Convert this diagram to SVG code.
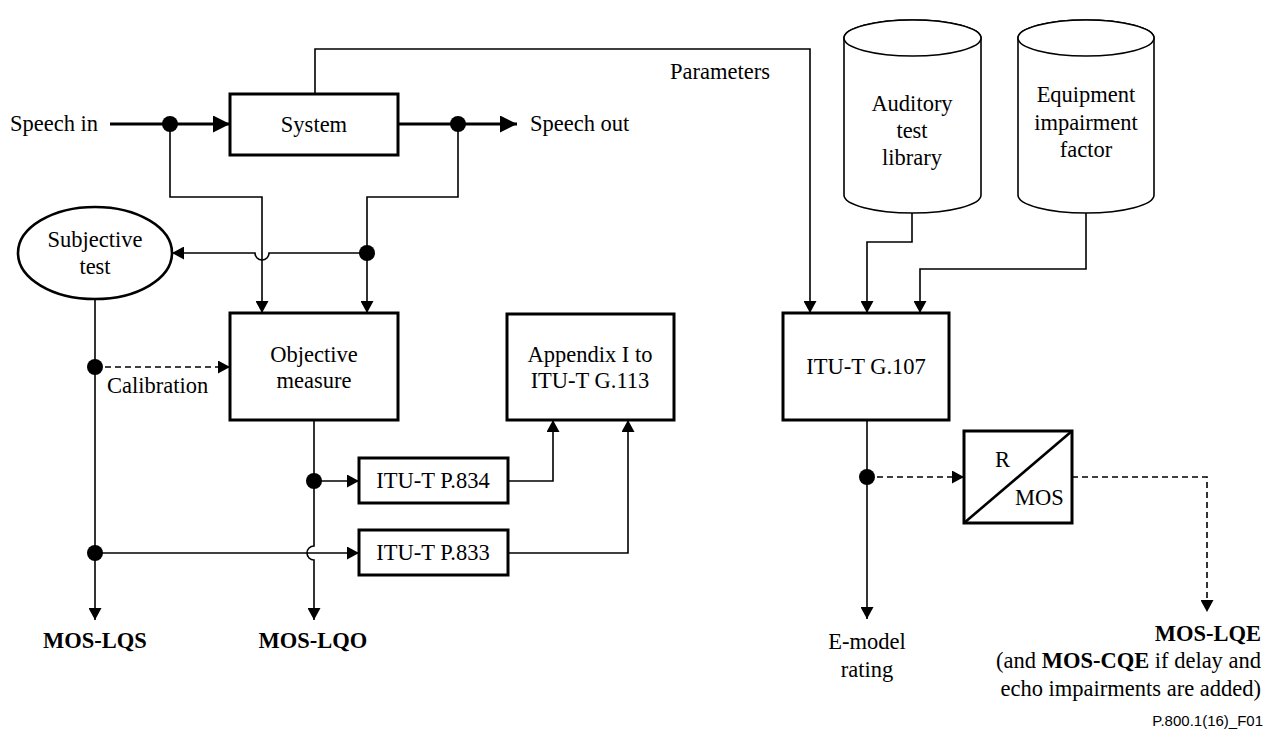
<svg xmlns="http://www.w3.org/2000/svg" width="1271" height="731" viewBox="0 0 1271 731">
<style>
  text { font-family: "Liberation Serif", "Times New Roman", serif; font-size: 22.5px; fill: #000; }
  .c { text-anchor: middle; }
  .e { text-anchor: end; }
  .b { font-weight: bold; }
  .foot { font-family: "Liberation Sans", Arial, sans-serif; font-size: 15px; text-anchor: end; }
  .box { fill: #fff; stroke: #000; stroke-width: 3; }
  .cyl { fill: #fff; stroke: #000; stroke-width: 1.6; }
  .ln { fill: none; stroke: #000; stroke-width: 1.6; }
  .thick { fill: none; stroke: #000; stroke-width: 3.2; }
  .dash { fill: none; stroke: #000; stroke-width: 1.6; stroke-dasharray: 6 4; }
  .dot { fill: #000; }
</style>
<defs>
  <marker id="arr" markerUnits="userSpaceOnUse" markerWidth="12" markerHeight="13" refX="12" refY="6.5" orient="auto">
    <path d="M0,0 L12,6.5 L0,13 Z" fill="#000"/>
  </marker>
  <marker id="big" markerUnits="userSpaceOnUse" markerWidth="17" markerHeight="17" refX="17" refY="8.5" orient="auto">
    <path d="M0,0 L17,8.5 L0,17 Z" fill="#000"/>
  </marker>
</defs>
<rect width="1271" height="731" fill="#fff"/>

<g id="connectors">
  <path class="thick" d="M110,124 H230" marker-end="url(#big)"/>
  <path class="thick" d="M398,124 H517" marker-end="url(#big)"/>
  <path class="ln" d="M315,94 V49 H810 V313" marker-end="url(#arr)"/>
  <path class="ln" d="M170,124 V197 H262 V313" marker-end="url(#arr)"/>
  <path class="ln" d="M458,124 V197 H367 V313" marker-end="url(#arr)"/>
  <path class="ln" d="M367,253 H269 A7,7 0 0 1 255,253 H172" marker-end="url(#arr)"/>
  <path class="ln" d="M95,299 V620" marker-end="url(#arr)"/>
  <path class="dash" d="M95,367 H230" marker-end="url(#arr)"/>
  <path class="ln" d="M314,420 V546 A7,7 0 0 0 314,560 V620" marker-end="url(#arr)"/>
  <path class="ln" d="M314,481 H359" marker-end="url(#arr)"/>
  <path class="ln" d="M95,553 H359" marker-end="url(#arr)"/>
  <path class="ln" d="M508,481 H553 V420" marker-end="url(#arr)"/>
  <path class="ln" d="M508,553 H628 V420" marker-end="url(#arr)"/>
  <path class="ln" d="M912,213 V242 H867 V313" marker-end="url(#arr)"/>
  <path class="ln" d="M1086,213 V269 H920 V313" marker-end="url(#arr)"/>
  <path class="ln" d="M867,420 V619" marker-end="url(#arr)"/>
  <path class="dash" d="M867,477 H964" marker-end="url(#arr)"/>
  <path class="dash" d="M1072,477 H1207 V612" marker-end="url(#arr)"/>
  <circle class="dot" cx="170" cy="124" r="8"/>
  <circle class="dot" cx="458" cy="124" r="8"/>
  <circle class="dot" cx="367" cy="253" r="8"/>
  <circle class="dot" cx="95" cy="367" r="8"/>
  <circle class="dot" cx="95" cy="553" r="8"/>
  <circle class="dot" cx="314" cy="481" r="8"/>
  <circle class="dot" cx="867" cy="477" r="8"/>
</g>

<g id="labels">
  <text x="10" y="131">Speech in</text>
  <text x="530" y="131">Speech out</text>
  <text x="670" y="79">Parameters</text>
  <text x="107" y="393">Calibration</text>
  <text class="c b" x="95" y="648">MOS-LQS</text>
  <text class="c b" x="313" y="648">MOS-LQO</text>
  <text class="c" x="867" y="649">E-model</text>
  <text class="c" x="867" y="677">rating</text>
  <text class="e b" x="1261" y="641">MOS-LQE</text>
  <text class="e" x="1261" y="668">(and <tspan class="b">MOS-CQE</tspan> if delay and</text>
  <text class="e" x="1261" y="696">echo impairments are added)</text>
  <text class="foot" x="1263" y="726">P.800.1(16)_F01</text>
</g>

<g id="system">
  <rect class="box" x="230" y="94" width="168" height="61"/>
  <text class="c" x="314" y="132">System</text>
</g>

<g id="subjective-test">
  <ellipse cx="95" cy="253" rx="77" ry="46" fill="#fff" stroke="#000" stroke-width="2.6"/>
  <text class="c" x="95" y="247">Subjective</text>
  <text class="c" x="95" y="274">test</text>
</g>

<g id="objective-measure">
  <rect class="box" x="230" y="313" width="168" height="107"/>
  <text class="c" x="314" y="362">Objective</text>
  <text class="c" x="314" y="388">measure</text>
</g>

<g id="appendix-g113">
  <rect class="box" x="507" y="314" width="167" height="106"/>
  <text class="c" x="590" y="362">Appendix I to</text>
  <text class="c" x="590" y="388">ITU-T G.113</text>
</g>

<g id="p834">
  <rect class="box" x="359" y="458" width="149" height="45"/>
  <text class="c" x="433" y="488">ITU-T P.834</text>
</g>

<g id="p833">
  <rect class="box" x="359" y="530" width="149" height="45"/>
  <text class="c" x="433" y="560">ITU-T P.833</text>
</g>

<g id="g107">
  <rect class="box" x="783" y="313" width="166" height="107"/>
  <text class="c" x="866" y="374">ITU-T G.107</text>
</g>

<g id="auditory-test-library">
  <path class="cyl" d="M844,38 V195 A68.5,18 0 0 0 981,195 V38 A68.5,18 0 0 0 844,38 Z"/>
  <ellipse class="cyl" cx="912.5" cy="38" rx="68.5" ry="18"/>
  <text class="c" x="912" y="111">Auditory</text>
  <text class="c" x="912" y="138">test</text>
  <text class="c" x="912" y="165">library</text>
</g>

<g id="equipment-impairment-factor">
  <path class="cyl" d="M1018,38 V195 A68,18 0 0 0 1154,195 V38 A68,18 0 0 0 1018,38 Z"/>
  <ellipse class="cyl" cx="1086" cy="38" rx="68" ry="18"/>
  <text class="c" x="1086" y="102">Equipment</text>
  <text class="c" x="1086" y="130">impairment</text>
  <text class="c" x="1086" y="157">factor</text>
</g>

<g id="r-mos">
  <rect class="box" x="964" y="431" width="108" height="92"/>
  <line x1="964" y1="523" x2="1072" y2="431" stroke="#000" stroke-width="2.6"/>
  <text x="995" y="467">R</text>
  <text x="1015" y="505">MOS</text>
</g>
</svg>
